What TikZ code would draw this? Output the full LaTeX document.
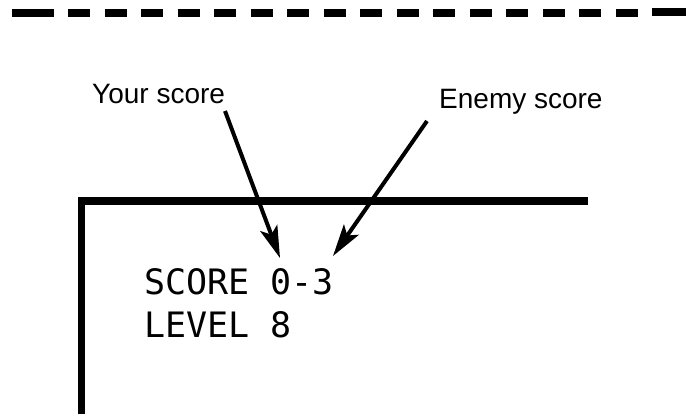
\documentclass[tikz,border=0pt]{standalone}
\usepackage{fontspec}
\newfontfamily\labelfont{Liberation Sans}
\newfontfamily\screenfont{DejaVu Sans Mono}
\usetikzlibrary{arrows.meta}
\begin{document}
\begin{tikzpicture}[x=1pt,y=-1pt,
  labeltext/.style={inner sep=0pt,anchor=base west,font=\labelfont\fontsize{28}{32}\selectfont},
  screentext/.style={inner sep=0pt,anchor=base west,font=\screenfont\fontsize{35}{40}\selectfont},
  pointer/.style={line width=4pt,-{Stealth[length=32pt,width=18pt,inset=7pt]}},
  dashbar/.style={line width=7.5pt},
  frame/.style={line width=7.5pt,line join=miter}]
\useasboundingbox (0,0) rectangle (695,413);
% dashed border at top
\draw[dashbar] (12,13) -- (54,13);
\foreach \k in {0,...,15}{
  \draw[dashbar] ({68+36.53*\k},13) -- ({90+36.53*\k},13);
}
\draw[dashbar] (652,12) -- (686,12);
% screen frame
\draw[frame] (81.5,420) -- (81.5,201) -- (588,201);
% labels
\node[labeltext] (your) at (92,103) {Your score};
\node[labeltext] (enemy) at (439,108) {Enemy score};
% screen text
\node[screentext] (score) at (144,294) {SCORE 0-3};
\node[screentext] (level) at (144,337) {LEVEL 8};
% arrow ends
\coordinate (yourtail) at (225,111);
\coordinate (yourtip) at (280,258);
\coordinate (enemytail) at (427,121);
\coordinate (enemytip) at (333,256);
\draw[pointer] (yourtail) -- (yourtip);
\draw[pointer] (enemytail) -- (enemytip);
\end{tikzpicture}
\end{document}
